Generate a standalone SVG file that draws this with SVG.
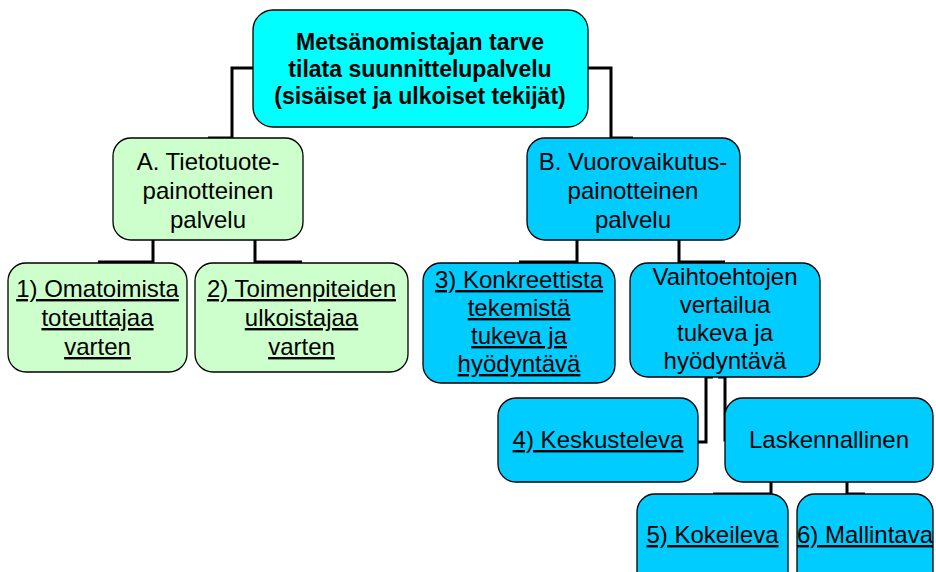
<svg xmlns="http://www.w3.org/2000/svg" width="936" height="572" viewBox="0 0 936 572">
<style>
.box{stroke:#000;stroke-width:1.3}
.top{fill:#00FFFF}
.green{fill:#CCFFCC}
.blue{fill:#00CCFF}
.conn{fill:none;stroke:#000;stroke-width:3}
text{font-family:"Liberation Sans",Arial,sans-serif;font-size:24px;fill:#000;text-anchor:middle}
.b{font-weight:bold;font-size:23px}
.u{text-decoration:underline}
</style>
<rect width="936" height="572" fill="#fff"/>
<g id="connectors">
<path class="conn" d="M253 68 H232 V138 H208"/>
<path class="conn" d="M588 68 H611 V138 H633"/>
<path class="conn" d="M153 240 V262 H98"/>
<path class="conn" d="M255 240 V262 H302"/>
<path class="conn" d="M577 240 V262 H519"/>
<path class="conn" d="M679 240 V262 H725"/>
<path class="conn" d="M713 377 H706 V442 H698"/>
<path class="conn" d="M718 377 H725 V440 H740"/>
<path class="conn" d="M771 482 V494 H713"/>
<path class="conn" d="M847 482 V494 H865"/>
</g>
<g id="root">
<rect class="box top" x="253" y="10" width="335" height="117" rx="20"/>
<text class="b" x="420" y="50">Metsänomistajan tarve</text>
<text class="b" x="420" y="77">tilata suunnittelupalvelu</text>
<text class="b" x="420" y="104">(sisäiset ja ulkoiset tekijät)</text>
</g>
<g id="A">
<rect class="box green" x="113" y="138" width="190" height="102" rx="18"/>
<text x="208" y="170">A. Tietotuote-</text>
<text x="208" y="199">painotteinen</text>
<text x="208" y="228">palvelu</text>
</g>
<g id="B">
<rect class="box blue" x="527" y="138" width="213" height="102" rx="18"/>
<text x="633" y="170">B. Vuorovaikutus-</text>
<text x="633" y="199">painotteinen</text>
<text x="633" y="228">palvelu</text>
</g>
<g id="n1">
<rect class="box green" x="8" y="263" width="179" height="109" rx="18"/>
<text class="u" x="97.5" y="297">1) Omatoimista</text>
<text class="u" x="97.5" y="326">toteuttajaa</text>
<text class="u" x="97.5" y="355">varten</text>
</g>
<g id="n2">
<rect class="box green" x="195" y="263" width="213" height="109" rx="18"/>
<text class="u" x="301.5" y="297">2) Toimenpiteiden</text>
<text class="u" x="301.5" y="326">ulkoistajaa</text>
<text class="u" x="301.5" y="355">varten</text>
</g>
<g id="n3">
<rect class="box blue" x="423" y="263" width="192" height="120" rx="18"/>
<text class="u" x="519" y="288">3) Konkreettista</text>
<text class="u" x="519" y="316">tekemistä</text>
<text class="u" x="519" y="344">tukeva ja</text>
<text class="u" x="519" y="372">hyödyntävä</text>
</g>
<g id="vaihto">
<rect class="box blue" x="630" y="263" width="190" height="114" rx="18"/>
<text x="725" y="285">Vaihtoehtojen</text>
<text x="725" y="313">vertailua</text>
<text x="725" y="341">tukeva ja</text>
<text x="725" y="369">hyödyntävä</text>
</g>
<g id="n4">
<rect class="box blue" x="498" y="398" width="200" height="84" rx="18"/>
<text class="u" x="598" y="448">4) Keskusteleva</text>
</g>
<g id="laskennallinen">
<rect class="box blue" x="725" y="398" width="208" height="84" rx="18"/>
<text x="829" y="448">Laskennallinen</text>
</g>
<g id="n5">
<rect class="box blue" x="637" y="494" width="151" height="110" rx="18"/>
<text class="u" x="712.5" y="543">5) Kokeileva</text>
</g>
<g id="n6">
<rect class="box blue" x="797" y="494" width="136" height="110" rx="18"/>
<text class="u" x="865" y="543">6) Mallintava</text>
</g>
</svg>
